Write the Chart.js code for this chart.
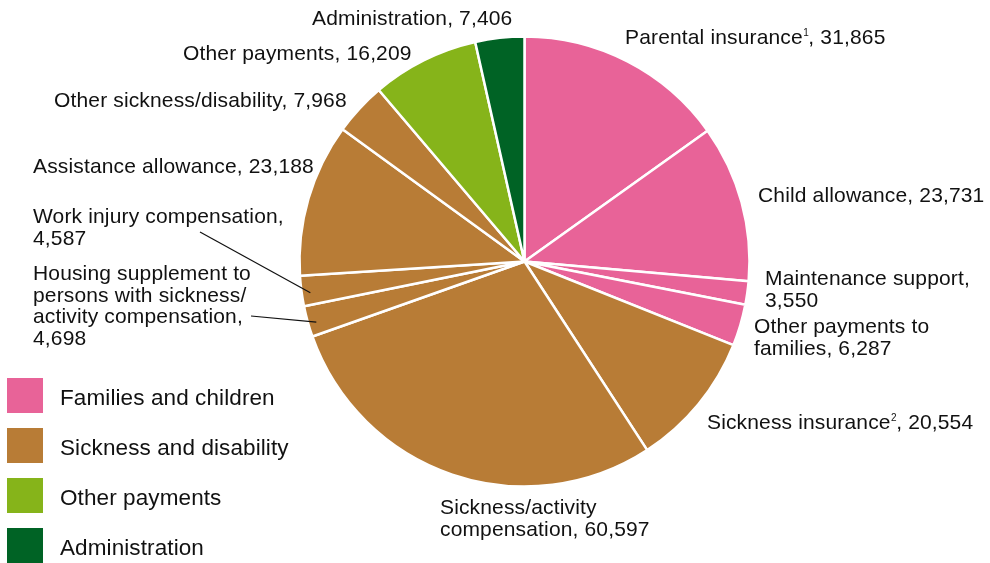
<!DOCTYPE html>
<html>
<head>
<meta charset="utf-8">
<script src="https://cdn.jsdelivr.net/npm/chart.js@4.4.1/dist/chart.umd.min.js"></script>
<style>
  html, body { margin: 0; padding: 0; background: #fff; }
  #wrap { position: relative; width: 990px; height: 563px; }
</style>
</head>
<body>
<div id="wrap"><canvas id="pie" width="990" height="563"></canvas></div>
<script>
// Expenditure by item, SEK million ("^n" marks a footnote number)
const categories = [
  ["Parental insurance^1, 31,865"],
  ["Child allowance, 23,731"],
  ["Maintenance support,", "3,550"],
  ["Other payments to", "families, 6,287"],
  ["Sickness insurance^2, 20,554"],
  ["Sickness/activity", "compensation, 60,597"],
  ["Housing supplement to", "persons with sickness/", "activity compensation,", "4,698"],
  ["Work injury compensation,", "4,587"],
  ["Assistance allowance, 23,188"],
  ["Other sickness/disability, 7,968"],
  ["Other payments, 16,209"],
  ["Administration, 7,406"],
];
const values = [31865, 23731, 3550, 6287, 20554, 60597, 4698, 4587, 23188, 7968, 16209, 7406];
const groupOf = [0, 0, 0, 0, 1, 1, 1, 1, 1, 1, 2, 3];

const groupNames = ["Families and children", "Sickness and disability", "Other payments", "Administration"];
const groupColors = ["#e86398", "#b87c36", "#86b41a", "#006325"];

// where each label sits: x, first baseline, optional leader line start
const labelPos = [
  { x: 625, y: 44 },
  { x: 758, y: 202 },
  { x: 765, y: 285 },
  { x: 754, y: 333 },
  { x: 707, y: 429 },
  { x: 440, y: 514 },
  { x: 33, y: 280, lead: [251, 316] },
  { x: 33, y: 223, lead: [200, 232] },
  { x: 33, y: 173 },
  { x: 54, y: 107 },
  { x: 183, y: 60 },
  { x: 312, y: 25 },
];

const FAMILY = '"Liberation Sans", Arial, sans-serif';
const LINE_H = 21.5;

function drawRich(ctx, text, x, y) {
  const parts = text.split(/\^(\d)/);
  parts.forEach((part, j) => {
    if (j % 2 === 1) {
      ctx.font = "10px " + FAMILY;
      ctx.letterSpacing = "0px";
      ctx.fillText(part, x + 0.5, y - 8);
      x += ctx.measureText(part).width;
      ctx.font = "21px " + FAMILY;
      ctx.letterSpacing = "0.15px";
    } else {
      ctx.fillText(part, x, y);
      x += ctx.measureText(part).width;
    }
  });
}

const sliceLabels = {
  id: "sliceLabels",
  afterDatasetsDraw(chart) {
    const ctx = chart.ctx;
    const arcs = chart.getDatasetMeta(0).data;
    ctx.save();
    ctx.font = "21px " + FAMILY;
    ctx.letterSpacing = "0.15px";
    ctx.fillStyle = "#111";
    ctx.textBaseline = "alphabetic";
    ctx.textAlign = "left";
    arcs.forEach((arc, i) => {
      const p = labelPos[i];
      const { x, y, startAngle, endAngle, outerRadius } = arc.getProps(["x", "y", "startAngle", "endAngle", "outerRadius"], true);
      if (p.lead) {
        const mid = (startAngle + endAngle) / 2;
        const r = outerRadius * 0.96;
        ctx.beginPath();
        ctx.moveTo(p.lead[0], p.lead[1]);
        ctx.lineTo(x + Math.cos(mid) * r, y + Math.sin(mid) * r + 3);
        ctx.strokeStyle = "#111";
        ctx.lineWidth = 1.2;
        ctx.stroke();
      }
      categories[i].forEach((line, k) => drawRich(ctx, line, p.x, p.y + k * LINE_H));
    });

    // group legend, bottom left
    ctx.font = "22.5px " + FAMILY;
    ctx.letterSpacing = "0.1px";
    groupNames.forEach((name, g) => {
      const top = 378 + g * 50;
      ctx.fillStyle = groupColors[g];
      ctx.fillRect(7, top, 36, 35);
      ctx.fillStyle = "#111";
      ctx.fillText(name, 60, top + 27);
    });
    ctx.restore();
  },
};

new Chart(document.getElementById("pie"), {
  type: "pie",
  data: {
    labels: categories.map((c) => c.join(" ").replace(/\^\d/g, "")),
    datasets: [{
      data: values,
      backgroundColor: groupOf.map((g) => groupColors[g]),
      borderColor: "#ffffff",
      borderWidth: 2.5,
    }],
  },
  options: {
    responsive: false,
    animation: false,
    radius: 225,
    layout: { padding: { left: 298.5, right: 239.5, top: 35.5, bottom: 75.5 } },
    plugins: { legend: { display: false }, tooltip: { enabled: false } },
  },
  plugins: [sliceLabels],
});
</script>
</body>
</html>
